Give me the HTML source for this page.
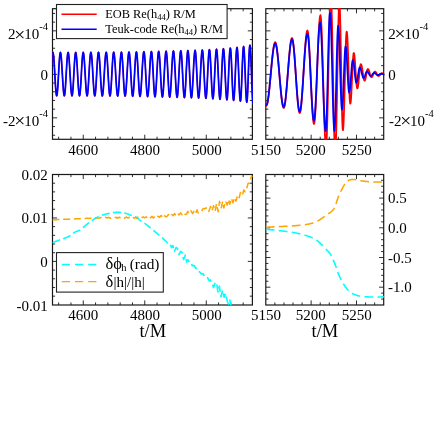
<!DOCTYPE html>
<html><head><meta charset="utf-8"><title>fig</title>
<style>
html,body{margin:0;padding:0;background:#fff}
#w{position:relative;width:436px;height:436px;overflow:hidden;background:#fff;font-family:"Liberation Serif",serif;color:#000}
text{white-space:pre}
</style></head><body><div id="w">
<svg width="436" height="436" viewBox="0 0 436 436" style="position:absolute;left:0;top:0;will-change:transform"><defs><clipPath id="c1"><rect x="52.3" y="8.1" width="200.70" height="131.8"/></clipPath><clipPath id="c2"><rect x="265.7" y="8.1" width="118.60" height="131.8"/></clipPath><clipPath id="c3"><rect x="52.3" y="173.9" width="200.70" height="131.7"/></clipPath><clipPath id="c4"><rect x="265.7" y="173.9" width="118.60" height="131.7"/></clipPath></defs><g fill="none" stroke="#181818" stroke-width="1.2"><rect x="52.5" y="8.7" width="199.9" height="130.6"/><rect x="265.8" y="8.7" width="117.9" height="130.6"/><rect x="52.5" y="174.5" width="199.9" height="130.5"/><rect x="265.8" y="174.5" width="117.9" height="130.5"/><path d="M58.65 139.3L58.65 136.7M58.65 8.7L58.65 11.3M70.95 139.3L70.95 136.7M70.95 8.7L70.95 11.3M83.25 139.3L83.25 134.7M83.25 8.7L83.25 13.3M95.56 139.3L95.56 136.7M95.56 8.7L95.56 11.3M107.86 139.3L107.86 136.7M107.86 8.7L107.86 11.3M120.16 139.3L120.16 136.7M120.16 8.7L120.16 11.3M132.46 139.3L132.46 136.7M132.46 8.7L132.46 11.3M144.76 139.3L144.76 134.7M144.76 8.7L144.76 13.3M157.06 139.3L157.06 136.7M157.06 8.7L157.06 11.3M169.36 139.3L169.36 136.7M169.36 8.7L169.36 11.3M181.67 139.3L181.67 136.7M181.67 8.7L181.67 11.3M193.97 139.3L193.97 136.7M193.97 8.7L193.97 11.3M206.27 139.3L206.27 134.7M206.27 8.7L206.27 13.3M218.57 139.3L218.57 136.7M218.57 8.7L218.57 11.3M230.87 139.3L230.87 136.7M230.87 8.7L230.87 11.3M243.17 139.3L243.17 136.7M243.17 8.7L243.17 11.3M274.87 139.3L274.87 136.7M274.87 8.7L274.87 11.3M283.94 139.3L283.94 136.7M283.94 8.7L283.94 11.3M293.01 139.3L293.01 136.7M293.01 8.7L293.01 11.3M302.08 139.3L302.08 136.7M302.08 8.7L302.08 11.3M311.15 139.3L311.15 134.7M311.15 8.7L311.15 13.3M320.22 139.3L320.22 136.7M320.22 8.7L320.22 11.3M329.28 139.3L329.28 136.7M329.28 8.7L329.28 11.3M338.35 139.3L338.35 136.7M338.35 8.7L338.35 11.3M347.42 139.3L347.42 136.7M347.42 8.7L347.42 11.3M356.49 139.3L356.49 134.7M356.49 8.7L356.49 13.3M365.56 139.3L365.56 136.7M365.56 8.7L365.56 11.3M374.63 139.3L374.63 136.7M374.63 8.7L374.63 11.3M58.65 305L58.65 302.4M58.65 174.5L58.65 177.1M70.95 305L70.95 302.4M70.95 174.5L70.95 177.1M83.25 305L83.25 300.4M83.25 174.5L83.25 179.1M95.56 305L95.56 302.4M95.56 174.5L95.56 177.1M107.86 305L107.86 302.4M107.86 174.5L107.86 177.1M120.16 305L120.16 302.4M120.16 174.5L120.16 177.1M132.46 305L132.46 302.4M132.46 174.5L132.46 177.1M144.76 305L144.76 300.4M144.76 174.5L144.76 179.1M157.06 305L157.06 302.4M157.06 174.5L157.06 177.1M169.36 305L169.36 302.4M169.36 174.5L169.36 177.1M181.67 305L181.67 302.4M181.67 174.5L181.67 177.1M193.97 305L193.97 302.4M193.97 174.5L193.97 177.1M206.27 305L206.27 300.4M206.27 174.5L206.27 179.1M218.57 305L218.57 302.4M218.57 174.5L218.57 177.1M230.87 305L230.87 302.4M230.87 174.5L230.87 177.1M243.17 305L243.17 302.4M243.17 174.5L243.17 177.1M274.87 305L274.87 302.4M274.87 174.5L274.87 177.1M283.94 305L283.94 302.4M283.94 174.5L283.94 177.1M293.01 305L293.01 302.4M293.01 174.5L293.01 177.1M302.08 305L302.08 302.4M302.08 174.5L302.08 177.1M311.15 305L311.15 300.4M311.15 174.5L311.15 179.1M320.22 305L320.22 302.4M320.22 174.5L320.22 177.1M329.28 305L329.28 302.4M329.28 174.5L329.28 177.1M338.35 305L338.35 302.4M338.35 174.5L338.35 177.1M347.42 305L347.42 302.4M347.42 174.5L347.42 177.1M356.49 305L356.49 300.4M356.49 174.5L356.49 179.1M365.56 305L365.56 302.4M365.56 174.5L365.56 177.1M374.63 305L374.63 302.4M374.63 174.5L374.63 177.1M52.5 135.25L55.1 135.25M252.4 135.25L249.8 135.25M265.8 135.25L268.4 135.25M383.7 135.25L381.1 135.25M52.5 126.55L55.1 126.55M252.4 126.55L249.8 126.55M265.8 126.55L268.4 126.55M383.7 126.55L381.1 126.55M52.5 117.85L57.1 117.85M252.4 117.85L247.8 117.85M265.8 117.85L270.4 117.85M383.7 117.85L379.1 117.85M52.5 109.15L55.1 109.15M252.4 109.15L249.8 109.15M265.8 109.15L268.4 109.15M383.7 109.15L381.1 109.15M52.5 100.45L55.1 100.45M252.4 100.45L249.8 100.45M265.8 100.45L268.4 100.45M383.7 100.45L381.1 100.45M52.5 91.75L55.1 91.75M252.4 91.75L249.8 91.75M265.8 91.75L268.4 91.75M383.7 91.75L381.1 91.75M52.5 83.05L55.1 83.05M252.4 83.05L249.8 83.05M265.8 83.05L268.4 83.05M383.7 83.05L381.1 83.05M52.5 74.35L57.1 74.35M252.4 74.35L247.8 74.35M265.8 74.35L270.4 74.35M383.7 74.35L379.1 74.35M52.5 65.65L55.1 65.65M252.4 65.65L249.8 65.65M265.8 65.65L268.4 65.65M383.7 65.65L381.1 65.65M52.5 56.95L55.1 56.95M252.4 56.95L249.8 56.95M265.8 56.95L268.4 56.95M383.7 56.95L381.1 56.95M52.5 48.25L55.1 48.25M252.4 48.25L249.8 48.25M265.8 48.25L268.4 48.25M383.7 48.25L381.1 48.25M52.5 39.55L55.1 39.55M252.4 39.55L249.8 39.55M265.8 39.55L268.4 39.55M383.7 39.55L381.1 39.55M52.5 30.85L57.1 30.85M252.4 30.85L247.8 30.85M265.8 30.85L270.4 30.85M383.7 30.85L379.1 30.85M52.5 22.15L55.1 22.15M252.4 22.15L249.8 22.15M265.8 22.15L268.4 22.15M383.7 22.15L381.1 22.15M52.5 13.45L55.1 13.45M252.4 13.45L249.8 13.45M265.8 13.45L268.4 13.45M383.7 13.45L381.1 13.45M52.5 296.16L55.1 296.16M252.4 296.16L249.8 296.16M52.5 287.47L55.1 287.47M252.4 287.47L249.8 287.47M52.5 278.78L55.1 278.78M252.4 278.78L249.8 278.78M52.5 270.09L55.1 270.09M252.4 270.09L249.8 270.09M52.5 261.4L57.1 261.4M252.4 261.4L247.8 261.4M52.5 252.71L55.1 252.71M252.4 252.71L249.8 252.71M52.5 244.02L55.1 244.02M252.4 244.02L249.8 244.02M52.5 235.33L55.1 235.33M252.4 235.33L249.8 235.33M52.5 226.64L55.1 226.64M252.4 226.64L249.8 226.64M52.5 217.95L57.1 217.95M252.4 217.95L247.8 217.95M52.5 209.26L55.1 209.26M252.4 209.26L249.8 209.26M52.5 200.57L55.1 200.57M252.4 200.57L249.8 200.57M52.5 191.88L55.1 191.88M252.4 191.88L249.8 191.88M52.5 183.19L55.1 183.19M252.4 183.19L249.8 183.19M265.8 299.08L268.4 299.08M383.7 299.08L381.1 299.08M265.8 293.14L268.4 293.14M383.7 293.14L381.1 293.14M265.8 287.2L270.4 287.2M383.7 287.2L379.1 287.2M265.8 281.26L268.4 281.26M383.7 281.26L381.1 281.26M265.8 275.32L268.4 275.32M383.7 275.32L381.1 275.32M265.8 269.38L268.4 269.38M383.7 269.38L381.1 269.38M265.8 263.44L268.4 263.44M383.7 263.44L381.1 263.44M265.8 257.5L270.4 257.5M383.7 257.5L379.1 257.5M265.8 251.56L268.4 251.56M383.7 251.56L381.1 251.56M265.8 245.62L268.4 245.62M383.7 245.62L381.1 245.62M265.8 239.68L268.4 239.68M383.7 239.68L381.1 239.68M265.8 233.74L268.4 233.74M383.7 233.74L381.1 233.74M265.8 227.8L270.4 227.8M383.7 227.8L379.1 227.8M265.8 221.86L268.4 221.86M383.7 221.86L381.1 221.86M265.8 215.92L268.4 215.92M383.7 215.92L381.1 215.92M265.8 209.98L268.4 209.98M383.7 209.98L381.1 209.98M265.8 204.04L268.4 204.04M383.7 204.04L381.1 204.04M265.8 198.1L270.4 198.1M383.7 198.1L379.1 198.1M265.8 192.16L268.4 192.16M383.7 192.16L381.1 192.16M265.8 186.22L268.4 186.22M383.7 186.22L381.1 186.22M265.8 180.28L268.4 180.28M383.7 180.28L381.1 180.28" stroke-width="0.9"/></g><g fill="none" stroke-linejoin="round"><path clip-path="url(#c1)" d="M49.1 96.1 L49.37 95.55 L49.64 93.92 L49.91 91.3 L50.19 87.82 L50.46 83.65 L50.73 79 L51 74.1 L51.27 69.2 L51.54 64.55 L51.81 60.38 L52.09 56.9 L52.36 54.28 L52.63 52.65 L52.9 52.1 L53.17 52.65 L53.44 54.28 L53.71 56.9 L53.99 60.38 L54.26 64.56 L54.53 69.21 L54.8 74.1 L55.07 79 L55.34 83.65 L55.61 87.82 L55.89 91.3 L56.16 93.92 L56.43 95.55 L56.7 96.1 L56.96 95.55 L57.23 93.92 L57.49 91.3 L57.76 87.82 L58.02 83.65 L58.29 78.99 L58.55 74.1 L58.81 69.2 L59.08 64.55 L59.34 60.38 L59.61 56.89 L59.87 54.27 L60.14 52.64 L60.4 52.09 L60.68 52.64 L60.96 54.27 L61.24 56.9 L61.51 60.38 L61.79 64.55 L62.07 69.21 L62.35 74.1 L62.63 79 L62.91 83.65 L63.19 87.83 L63.46 91.31 L63.74 93.93 L64.02 95.56 L64.3 96.11 L64.57 95.56 L64.84 93.93 L65.11 91.31 L65.39 87.82 L65.66 83.65 L65.93 79 L66.2 74.1 L66.47 69.2 L66.74 64.54 L67.01 60.37 L67.29 56.88 L67.56 54.26 L67.83 52.63 L68.1 52.08 L68.38 52.63 L68.66 54.26 L68.94 56.88 L69.21 60.37 L69.49 64.55 L69.77 69.2 L70.05 74.11 L70.33 79.01 L70.61 83.66 L70.89 87.84 L71.16 91.33 L71.44 93.95 L71.72 95.58 L72 96.14 L72.26 95.58 L72.53 93.95 L72.79 91.33 L73.06 87.84 L73.32 83.66 L73.59 79 L73.85 74.09 L74.11 69.19 L74.38 64.53 L74.64 60.35 L74.91 56.86 L75.17 54.24 L75.44 52.61 L75.7 52.05 L75.97 52.61 L76.24 54.24 L76.51 56.86 L76.79 60.36 L77.06 64.54 L77.33 69.2 L77.6 74.11 L77.87 79.01 L78.14 83.68 L78.41 87.86 L78.69 91.35 L78.96 93.98 L79.23 95.61 L79.5 96.16 L79.76 95.61 L80.03 93.98 L80.29 91.35 L80.56 87.85 L80.82 83.67 L81.09 79 L81.35 74.09 L81.61 69.18 L81.88 64.52 L82.14 60.33 L82.41 56.84 L82.67 54.21 L82.94 52.58 L83.2 52.03 L83.48 52.58 L83.76 54.21 L84.04 56.84 L84.31 60.34 L84.59 64.53 L84.87 69.19 L85.15 74.11 L85.43 79.02 L85.71 83.69 L85.99 87.88 L86.26 91.37 L86.54 94 L86.82 95.64 L87.1 96.19 L87.37 95.63 L87.64 94 L87.91 91.37 L88.19 87.87 L88.46 83.68 L88.73 79.01 L89 74.09 L89.27 69.18 L89.54 64.51 L89.81 60.32 L90.09 56.82 L90.36 54.18 L90.63 52.55 L90.9 52 L91.18 52.55 L91.46 54.19 L91.74 56.82 L92.01 60.32 L92.29 64.51 L92.57 69.19 L92.85 74.11 L93.13 79.03 L93.41 83.7 L93.69 87.89 L93.96 91.4 L94.24 94.03 L94.52 95.67 L94.8 96.22 L95.06 95.66 L95.33 94.03 L95.59 91.39 L95.86 87.89 L96.12 83.69 L96.39 79.02 L96.65 74.09 L96.91 69.17 L97.18 64.49 L97.44 60.29 L97.71 56.79 L97.97 54.15 L98.24 52.52 L98.5 51.96 L98.77 52.52 L99.04 54.16 L99.31 56.79 L99.59 60.3 L99.86 64.5 L100.13 69.18 L100.4 74.11 L100.67 79.04 L100.94 83.72 L101.21 87.92 L101.49 91.43 L101.76 94.06 L102.03 95.7 L102.3 96.26 L102.58 95.7 L102.86 94.06 L103.14 91.42 L103.41 87.91 L103.69 83.71 L103.97 79.02 L104.25 74.09 L104.53 69.16 L104.81 64.47 L105.09 60.27 L105.36 56.76 L105.64 54.11 L105.92 52.47 L106.2 51.92 L106.47 52.48 L106.74 54.12 L107.01 56.76 L107.29 60.28 L107.56 64.48 L107.83 69.17 L108.1 74.11 L108.37 79.05 L108.64 83.74 L108.91 87.95 L109.19 91.47 L109.46 94.11 L109.73 95.75 L110 96.31 L110.26 95.75 L110.53 94.11 L110.79 91.46 L111.06 87.94 L111.32 83.73 L111.59 79.03 L111.85 74.09 L112.11 69.14 L112.38 64.44 L112.64 60.23 L112.91 56.71 L113.17 54.07 L113.44 52.42 L113.7 51.86 L113.99 52.42 L114.27 54.07 L114.56 56.72 L114.84 60.24 L115.13 64.46 L115.41 69.17 L115.7 74.12 L115.99 79.07 L116.27 83.77 L116.56 87.99 L116.84 91.51 L117.13 94.17 L117.41 95.81 L117.7 96.37 L117.96 95.81 L118.23 94.16 L118.49 91.51 L118.76 87.98 L119.02 83.75 L119.29 79.04 L119.55 74.08 L119.81 69.12 L120.08 64.41 L120.34 60.19 L120.61 56.66 L120.87 54 L121.14 52.35 L121.4 51.8 L121.66 52.36 L121.93 54.01 L122.19 56.67 L122.46 60.2 L122.72 64.44 L122.99 69.15 L123.25 74.12 L123.51 79.09 L123.78 83.81 L124.04 88.04 L124.31 91.58 L124.57 94.24 L124.84 95.89 L125.1 96.45 L125.38 95.89 L125.66 94.23 L125.94 91.57 L126.21 88.02 L126.49 83.78 L126.77 79.05 L127.05 74.07 L127.33 69.09 L127.61 64.36 L127.89 60.11 L128.16 56.57 L128.44 53.9 L128.72 52.25 L129 51.69 L129.26 52.25 L129.53 53.91 L129.79 56.59 L130.06 60.14 L130.32 64.4 L130.59 69.14 L130.85 74.13 L131.11 79.13 L131.38 83.87 L131.64 88.13 L131.91 91.68 L132.17 94.36 L132.44 96.02 L132.7 96.58 L132.96 96.02 L133.23 94.35 L133.49 91.67 L133.76 88.1 L134.02 83.83 L134.29 79.07 L134.55 74.06 L134.81 69.05 L135.08 64.29 L135.34 60.02 L135.61 56.45 L135.87 53.77 L136.14 52.1 L136.4 51.54 L136.66 52.11 L136.91 53.78 L137.17 56.47 L137.43 60.05 L137.69 64.33 L137.94 69.11 L138.2 74.14 L138.46 79.17 L138.71 83.95 L138.97 88.23 L139.23 91.81 L139.49 94.5 L139.74 96.17 L140 96.74 L140.28 96.17 L140.56 94.49 L140.84 91.79 L141.11 88.2 L141.39 83.9 L141.67 79.1 L141.95 74.05 L142.23 69.01 L142.51 64.21 L142.79 59.91 L143.06 56.32 L143.34 53.61 L143.62 51.94 L143.9 51.37 L144.16 51.94 L144.43 53.62 L144.69 56.34 L144.96 59.94 L145.22 64.26 L145.49 69.08 L145.75 74.14 L146.01 79.21 L146.28 84.03 L146.54 88.35 L146.81 91.95 L147.07 94.67 L147.34 96.35 L147.6 96.92 L147.87 96.35 L148.14 94.66 L148.41 91.93 L148.69 88.31 L148.96 83.98 L149.23 79.14 L149.5 74.06 L149.77 68.97 L150.04 64.14 L150.31 59.8 L150.59 56.18 L150.86 53.46 L151.13 51.76 L151.4 51.19 L151.66 51.77 L151.91 53.46 L152.17 56.2 L152.43 59.83 L152.69 64.18 L152.94 69.04 L153.2 74.14 L153.46 79.25 L153.71 84.1 L153.97 88.45 L154.23 92.09 L154.49 94.82 L154.74 96.52 L155 97.09 L155.26 96.52 L155.53 94.81 L155.79 92.07 L156.06 88.42 L156.32 84.05 L156.59 79.18 L156.85 74.05 L157.11 68.93 L157.38 64.06 L157.64 59.69 L157.91 56.04 L158.17 53.3 L158.44 51.59 L158.7 51.01 L158.96 51.59 L159.23 53.31 L159.49 56.06 L159.76 59.72 L160.02 64.11 L160.29 69 L160.55 74.15 L160.81 79.3 L161.08 84.18 L161.34 88.57 L161.61 92.23 L161.87 94.99 L162.14 96.7 L162.4 97.28 L162.66 96.7 L162.93 94.98 L163.19 92.21 L163.46 88.53 L163.72 84.13 L163.99 79.22 L164.25 74.05 L164.51 68.88 L164.78 63.97 L165.04 59.57 L165.31 55.89 L165.57 53.12 L165.84 51.4 L166.1 50.82 L166.36 51.41 L166.61 53.13 L166.87 55.91 L167.13 59.6 L167.39 64.03 L167.64 68.96 L167.9 74.15 L168.16 79.34 L168.41 84.27 L168.67 88.69 L168.93 92.39 L169.19 95.17 L169.44 96.89 L169.7 97.48 L169.96 96.89 L170.23 95.16 L170.49 92.37 L170.76 88.66 L171.02 84.21 L171.29 79.26 L171.55 74.05 L171.81 68.83 L172.08 63.88 L172.34 59.44 L172.61 55.73 L172.87 52.94 L173.14 51.21 L173.4 50.62 L173.66 51.21 L173.93 52.95 L174.19 55.75 L174.46 59.48 L174.72 63.94 L174.99 68.92 L175.25 74.15 L175.51 79.39 L175.78 84.36 L176.04 88.83 L176.31 92.55 L176.57 95.36 L176.84 97.1 L177.1 97.69 L177.36 97.09 L177.63 95.35 L177.89 92.53 L178.16 88.79 L178.42 84.3 L178.69 79.31 L178.95 74.05 L179.21 68.79 L179.48 63.79 L179.74 59.31 L180.01 55.56 L180.27 52.75 L180.54 51 L180.8 50.41 L181.06 51 L181.31 52.76 L181.57 55.59 L181.83 59.35 L182.09 63.85 L182.34 68.87 L182.6 74.15 L182.86 79.44 L183.11 84.45 L183.37 88.96 L183.63 92.72 L183.89 95.55 L184.14 97.3 L184.4 97.9 L184.65 97.3 L184.9 95.54 L185.15 92.69 L185.4 88.92 L185.65 84.4 L185.9 79.36 L186.15 74.05 L186.4 68.74 L186.65 63.7 L186.9 59.18 L187.15 55.41 L187.4 52.57 L187.65 50.8 L187.9 50.2 L188.15 50.8 L188.4 52.58 L188.65 55.43 L188.9 59.22 L189.15 63.76 L189.4 68.82 L189.65 74.15 L189.9 79.48 L190.15 84.54 L190.4 89.08 L190.65 92.87 L190.9 95.73 L191.15 97.5 L191.4 98.1 L191.66 97.5 L191.93 95.72 L192.19 92.85 L192.46 89.04 L192.72 84.48 L192.99 79.39 L193.25 74.04 L193.51 68.69 L193.78 63.6 L194.04 59.04 L194.31 55.23 L194.57 52.36 L194.84 50.59 L195.1 49.98 L195.35 50.59 L195.6 52.38 L195.85 55.26 L196.1 59.09 L196.35 63.67 L196.6 68.78 L196.85 74.16 L197.1 79.54 L197.35 84.66 L197.6 89.24 L197.85 93.07 L198.1 95.95 L198.35 97.74 L198.6 98.34 L198.86 97.73 L199.13 95.94 L199.39 93.04 L199.66 89.19 L199.92 84.58 L200.19 79.43 L200.45 74.02 L200.71 68.61 L200.98 63.47 L201.24 58.86 L201.51 55.01 L201.77 52.11 L202.04 50.31 L202.3 49.7 L202.56 50.31 L202.81 52.12 L203.07 55.04 L203.33 58.92 L203.59 63.56 L203.84 68.74 L204.1 74.19 L204.36 79.64 L204.61 84.82 L204.87 89.46 L205.13 93.34 L205.39 96.26 L205.64 98.07 L205.9 98.68 L206.15 98.06 L206.4 96.24 L206.65 93.3 L206.9 89.39 L207.15 84.71 L207.4 79.49 L207.65 74 L207.9 68.51 L208.15 63.29 L208.4 58.61 L208.65 54.7 L208.9 51.76 L209.15 49.94 L209.4 49.32 L209.65 49.94 L209.9 51.78 L210.15 54.75 L210.4 58.69 L210.65 63.41 L210.9 68.67 L211.15 74.21 L211.4 79.75 L211.65 85.01 L211.9 89.73 L212.15 93.67 L212.4 96.63 L212.65 98.47 L212.9 99.1 L213.16 98.47 L213.41 96.61 L213.67 93.62 L213.93 89.64 L214.19 84.88 L214.44 79.57 L214.7 73.98 L214.96 68.39 L215.21 63.09 L215.47 58.32 L215.73 54.35 L215.99 51.35 L216.24 49.5 L216.5 48.87 L216.75 49.5 L217 51.38 L217.25 54.4 L217.5 58.41 L217.75 63.22 L218 68.58 L218.25 74.22 L218.5 79.86 L218.75 85.22 L219 90.03 L219.25 94.05 L219.5 97.07 L219.75 98.94 L220 99.58 L220.24 98.93 L220.49 97.04 L220.73 93.99 L220.97 89.94 L221.21 85.08 L221.46 79.67 L221.7 73.97 L221.94 68.27 L222.19 62.86 L222.43 58.01 L222.67 53.95 L222.91 50.9 L223.16 49.01 L223.4 48.37 L223.65 49.01 L223.9 50.93 L224.15 54.01 L224.4 58.11 L224.65 63.02 L224.9 68.49 L225.15 74.24 L225.4 80 L225.65 85.47 L225.9 90.38 L226.15 94.48 L226.4 97.56 L226.65 99.47 L226.9 100.12 L227.14 99.47 L227.39 97.53 L227.63 94.41 L227.87 90.27 L228.11 85.3 L228.36 79.77 L228.6 73.95 L228.84 68.12 L229.09 62.59 L229.33 57.63 L229.57 53.48 L229.81 50.36 L230.06 48.43 L230.3 47.77 L230.54 48.44 L230.77 50.4 L231.01 53.55 L231.24 57.75 L231.48 62.77 L231.71 68.37 L231.95 74.26 L232.19 80.16 L232.42 85.76 L232.66 90.78 L232.89 94.97 L233.13 98.13 L233.36 100.09 L233.6 100.75 L233.84 100.08 L234.09 98.09 L234.33 94.9 L234.57 90.65 L234.81 85.56 L235.06 79.88 L235.3 73.91 L235.54 67.94 L235.79 62.27 L236.03 57.18 L236.27 52.93 L236.51 49.73 L236.76 47.74 L237 47.07 L237.24 47.75 L237.49 49.77 L237.73 53.01 L237.97 57.33 L238.21 62.49 L238.46 68.25 L238.7 74.31 L238.94 80.37 L239.19 86.13 L239.43 91.3 L239.67 95.61 L239.91 98.86 L240.16 100.87 L240.4 101.55 L240.63 100.86 L240.86 98.81 L241.09 95.51 L241.31 91.13 L241.54 85.88 L241.77 80.03 L242 73.87 L242.23 67.71 L242.46 61.86 L242.69 56.61 L242.91 52.23 L243.14 48.93 L243.37 46.88 L243.6 46.19 L243.83 46.9 L244.06 48.98 L244.29 52.34 L244.51 56.8 L244.74 62.15 L244.97 68.1 L245.2 74.38 L245.43 80.65 L245.66 86.61 L245.89 91.95 L246.11 96.41 L246.34 99.77 L246.57 101.85 L246.8 102.56 L247.02 101.84 L247.24 99.71 L247.46 96.27 L247.69 91.71 L247.91 86.24 L248.13 80.15 L248.35 73.74 L248.57 67.32 L248.79 61.23 L249.01 55.76 L249.24 51.2 L249.46 47.77 L249.68 45.63 L249.9 44.91 L250.14 45.65 L250.37 47.84 L250.61 51.37 L250.84 56.06 L251.08 61.68 L251.31 67.94 L251.55 74.53 L251.79 81.12 L252.02 87.38 L252.26 93 L252.49 97.69 L252.73 101.21 L252.96 103.41 L253.2 104.15" stroke="#f00" stroke-width="1.2"/><path clip-path="url(#c1)" d="M49.1 95.6 L49.37 95.06 L49.64 93.47 L49.91 90.91 L50.19 87.51 L50.46 83.43 L50.73 78.88 L51 74.1 L51.27 69.32 L51.54 64.77 L51.81 60.69 L52.09 57.29 L52.36 54.73 L52.63 53.14 L52.9 52.6 L53.17 53.14 L53.44 54.73 L53.71 57.29 L53.99 60.7 L54.26 64.77 L54.53 69.32 L54.8 74.1 L55.07 78.89 L55.34 83.43 L55.61 87.51 L55.89 90.91 L56.16 93.47 L56.43 95.06 L56.7 95.6 L56.96 95.06 L57.23 93.47 L57.49 90.91 L57.76 87.51 L58.02 83.43 L58.29 78.88 L58.55 74.1 L58.81 69.31 L59.08 64.77 L59.34 60.69 L59.61 57.28 L59.87 54.72 L60.14 53.13 L60.4 52.59 L60.68 53.13 L60.96 54.72 L61.24 57.29 L61.51 60.69 L61.79 64.77 L62.07 69.32 L62.35 74.1 L62.63 78.89 L62.91 83.44 L63.19 87.52 L63.46 90.92 L63.74 93.48 L64.02 95.08 L64.3 95.61 L64.57 95.07 L64.84 93.48 L65.11 90.92 L65.39 87.51 L65.66 83.43 L65.93 78.88 L66.2 74.1 L66.47 69.31 L66.74 64.76 L67.01 60.68 L67.29 57.27 L67.56 54.71 L67.83 53.12 L68.1 52.58 L68.38 53.12 L68.66 54.71 L68.94 57.27 L69.21 60.68 L69.49 64.76 L69.77 69.31 L70.05 74.11 L70.33 78.9 L70.61 83.45 L70.89 87.53 L71.16 90.94 L71.44 93.5 L71.72 95.1 L72 95.64 L72.26 95.09 L72.53 93.5 L72.79 90.94 L73.06 87.52 L73.32 83.44 L73.59 78.89 L73.85 74.09 L74.11 69.3 L74.38 64.75 L74.64 60.66 L74.91 57.25 L75.17 54.69 L75.44 53.09 L75.7 52.55 L75.97 53.09 L76.24 54.69 L76.51 57.26 L76.79 60.67 L77.06 64.75 L77.33 69.31 L77.6 74.11 L77.87 78.9 L78.14 83.46 L78.41 87.55 L78.69 90.96 L78.96 93.53 L79.23 95.12 L79.5 95.66 L79.76 95.12 L80.03 93.52 L80.29 90.96 L80.56 87.54 L80.82 83.45 L81.09 78.89 L81.35 74.09 L81.61 69.29 L81.88 64.74 L82.14 60.65 L82.41 57.23 L82.67 54.66 L82.94 53.07 L83.2 52.53 L83.48 53.07 L83.76 54.66 L84.04 57.23 L84.31 60.65 L84.59 64.74 L84.87 69.31 L85.15 74.11 L85.43 78.91 L85.71 83.47 L85.99 87.56 L86.26 90.98 L86.54 93.55 L86.82 95.15 L87.1 95.69 L87.37 95.15 L87.64 93.55 L87.91 90.98 L88.19 87.56 L88.46 83.46 L88.73 78.9 L89 74.09 L89.27 69.29 L89.54 64.72 L89.81 60.63 L90.09 57.21 L90.36 54.64 L90.63 53.04 L90.9 52.5 L91.18 53.04 L91.46 54.64 L91.74 57.21 L92.01 60.63 L92.29 64.73 L92.57 69.3 L92.85 74.11 L93.13 78.92 L93.41 83.49 L93.69 87.58 L93.96 91 L94.24 93.58 L94.52 95.18 L94.8 95.72 L95.06 95.18 L95.33 93.58 L95.59 91 L95.86 87.58 L96.12 83.48 L96.39 78.9 L96.65 74.09 L96.91 69.28 L97.18 64.71 L97.44 60.61 L97.71 57.18 L97.97 54.6 L98.24 53 L98.5 52.46 L98.77 53.01 L99.04 54.61 L99.31 57.19 L99.59 60.61 L99.86 64.72 L100.13 69.29 L100.4 74.11 L100.67 78.93 L100.94 83.5 L101.21 87.61 L101.49 91.03 L101.76 93.61 L102.03 95.21 L102.3 95.76 L102.58 95.21 L102.86 93.61 L103.14 91.03 L103.41 87.6 L103.69 83.49 L103.97 78.91 L104.25 74.09 L104.53 69.27 L104.81 64.69 L105.09 60.58 L105.36 57.15 L105.64 54.56 L105.92 52.96 L106.2 52.42 L106.47 52.96 L106.74 54.57 L107.01 57.15 L107.29 60.59 L107.56 64.7 L107.83 69.29 L108.1 74.11 L108.37 78.94 L108.64 83.53 L108.91 87.64 L109.19 91.07 L109.46 93.66 L109.73 95.26 L110 95.81 L110.26 95.26 L110.53 93.66 L110.79 91.07 L111.06 87.63 L111.32 83.51 L111.59 78.92 L111.85 74.09 L112.11 69.25 L112.38 64.66 L112.64 60.54 L112.91 57.1 L113.17 54.52 L113.44 52.91 L113.7 52.36 L113.99 52.91 L114.27 54.52 L114.56 57.11 L114.84 60.55 L115.13 64.68 L115.41 69.28 L115.7 74.12 L115.99 78.96 L116.27 83.55 L116.56 87.68 L116.84 91.12 L117.13 93.71 L117.41 95.32 L117.7 95.87 L117.96 95.32 L118.23 93.71 L118.49 91.12 L118.76 87.67 L119.02 83.54 L119.29 78.93 L119.55 74.08 L119.81 69.23 L120.08 64.63 L120.34 60.5 L120.61 57.05 L120.87 54.45 L121.14 52.84 L121.4 52.3 L121.66 52.84 L121.93 54.46 L122.19 57.06 L122.46 60.51 L122.72 64.65 L122.99 69.27 L123.25 74.12 L123.51 78.98 L123.78 83.59 L124.04 87.73 L124.31 91.19 L124.57 93.79 L124.84 95.4 L125.1 95.95 L125.38 95.4 L125.66 93.78 L125.94 91.18 L126.21 87.71 L126.49 83.56 L126.77 78.94 L127.05 74.07 L127.33 69.2 L127.61 64.58 L127.89 60.43 L128.16 56.96 L128.44 54.36 L128.72 52.74 L129 52.19 L129.26 52.74 L129.53 54.36 L129.79 56.98 L130.06 60.45 L130.32 64.61 L130.59 69.25 L130.85 74.13 L131.11 79.02 L131.38 83.66 L131.64 87.82 L131.91 91.29 L132.17 93.91 L132.44 95.53 L132.7 96.08 L132.96 95.53 L133.23 93.9 L133.49 91.28 L133.76 87.79 L134.02 83.62 L134.29 78.96 L134.55 74.06 L134.81 69.16 L135.08 64.51 L135.34 60.33 L135.61 56.84 L135.87 54.22 L136.14 52.59 L136.4 52.04 L136.66 52.59 L136.91 54.23 L137.17 56.86 L137.43 60.36 L137.69 64.55 L137.94 69.22 L138.2 74.14 L138.46 79.06 L138.71 83.73 L138.97 87.92 L139.23 91.42 L139.49 94.05 L139.74 95.69 L140 96.24 L140.28 95.69 L140.56 94.04 L140.84 91.4 L141.11 87.89 L141.39 83.68 L141.67 78.99 L141.95 74.05 L142.23 69.12 L142.51 64.43 L142.79 60.22 L143.06 56.71 L143.34 54.06 L143.62 52.42 L143.9 51.87 L144.16 52.43 L144.43 54.07 L144.69 56.73 L144.96 60.25 L145.22 64.48 L145.49 69.19 L145.75 74.14 L146.01 79.1 L146.28 83.81 L146.54 88.03 L146.81 91.56 L147.07 94.21 L147.34 95.86 L147.6 96.42 L147.87 95.86 L148.14 94.21 L148.41 91.54 L148.69 88 L148.96 83.76 L149.23 79.03 L149.5 74.06 L149.77 69.08 L150.04 64.35 L150.31 60.11 L150.59 56.57 L150.86 53.91 L151.13 52.25 L151.4 51.69 L151.66 52.25 L151.91 53.91 L152.17 56.59 L152.43 60.14 L152.69 64.4 L152.94 69.15 L153.2 74.14 L153.46 79.14 L153.71 83.88 L153.97 88.14 L154.23 91.7 L154.49 94.37 L154.74 96.03 L155 96.59 L155.26 96.03 L155.53 94.36 L155.79 91.68 L156.06 88.11 L156.32 83.83 L156.59 79.07 L156.85 74.05 L157.11 69.04 L157.38 64.27 L157.64 60 L157.91 56.43 L158.17 53.75 L158.44 52.08 L158.7 51.51 L158.96 52.08 L159.23 53.76 L159.49 56.45 L159.76 60.04 L160.02 64.33 L160.29 69.11 L160.55 74.15 L160.81 79.18 L161.08 83.97 L161.34 88.26 L161.61 91.84 L161.87 94.54 L162.14 96.21 L162.4 96.78 L162.66 96.21 L162.93 94.53 L163.19 91.82 L163.46 88.22 L163.72 83.91 L163.99 79.11 L164.25 74.05 L164.51 68.99 L164.78 64.19 L165.04 59.88 L165.31 56.28 L165.57 53.57 L165.84 51.89 L166.1 51.32 L166.36 51.89 L166.61 53.58 L166.87 56.3 L167.13 59.92 L167.39 64.24 L167.64 69.07 L167.9 74.15 L168.16 79.23 L168.41 84.05 L168.67 88.38 L168.93 92 L169.19 94.72 L169.44 96.41 L169.7 96.98 L169.96 96.4 L170.23 94.71 L170.49 91.98 L170.76 88.34 L171.02 84 L171.29 79.15 L171.55 74.05 L171.81 68.95 L172.08 64.1 L172.34 59.75 L172.61 56.12 L172.87 53.39 L173.14 51.69 L173.4 51.12 L173.66 51.7 L173.93 53.4 L174.19 56.14 L174.46 59.79 L174.72 64.16 L174.99 69.03 L175.25 74.15 L175.51 79.28 L175.78 84.15 L176.04 88.51 L176.31 92.16 L176.57 94.91 L176.84 96.61 L177.1 97.19 L177.36 96.61 L177.63 94.9 L177.89 92.14 L178.16 88.47 L178.42 84.09 L178.69 79.2 L178.95 74.05 L179.21 68.9 L179.48 64.01 L179.74 59.62 L180.01 55.95 L180.27 53.2 L180.54 51.49 L180.8 50.91 L181.06 51.49 L181.31 53.21 L181.57 55.98 L181.83 59.66 L182.09 64.07 L182.34 68.98 L182.6 74.15 L182.86 79.32 L183.11 84.24 L183.37 88.64 L183.63 92.33 L183.89 95.1 L184.14 96.81 L184.4 97.4 L184.65 96.81 L184.9 95.09 L185.15 92.3 L185.4 88.61 L185.65 84.18 L185.9 79.25 L186.15 74.05 L186.4 68.86 L186.65 63.92 L186.9 59.49 L187.15 55.8 L187.4 53.02 L187.65 51.29 L187.9 50.7 L188.15 51.29 L188.4 53.03 L188.65 55.82 L188.9 59.53 L189.15 63.98 L189.4 68.93 L189.65 74.15 L189.9 79.37 L190.15 84.33 L190.4 88.77 L190.65 92.48 L190.9 95.28 L191.15 97.01 L191.4 97.6 L191.66 97.01 L191.93 95.27 L192.19 92.46 L192.46 88.73 L192.72 84.26 L192.99 79.28 L193.25 74.04 L193.51 68.8 L193.78 63.82 L194.04 59.35 L194.31 55.62 L194.57 52.81 L194.84 51.07 L195.1 50.48 L195.35 51.08 L195.6 52.83 L195.85 55.65 L196.1 59.4 L196.35 63.89 L196.6 68.89 L196.85 74.16 L197.1 79.43 L197.35 84.44 L197.6 88.93 L197.85 92.68 L198.1 95.5 L198.35 97.25 L198.6 97.84 L198.86 97.25 L199.13 95.49 L199.39 92.65 L199.66 88.88 L199.92 84.36 L200.19 79.32 L200.45 74.02 L200.71 68.72 L200.98 63.69 L201.24 59.17 L201.51 55.4 L201.77 52.56 L202.04 50.8 L202.3 50.2 L202.56 50.8 L202.81 52.58 L203.07 55.43 L203.33 59.23 L203.59 63.78 L203.84 68.85 L204.1 74.19 L204.36 79.53 L204.61 84.6 L204.87 89.15 L205.13 92.95 L205.39 95.81 L205.64 97.58 L205.9 98.18 L206.15 97.58 L206.4 95.79 L206.65 92.91 L206.9 89.08 L207.15 84.49 L207.4 79.38 L207.65 74 L207.9 68.62 L208.15 63.51 L208.4 58.92 L208.65 55.09 L208.9 52.21 L209.15 50.42 L209.4 49.82 L209.65 50.43 L209.9 52.23 L210.15 55.14 L210.4 59 L210.65 63.63 L210.9 68.78 L211.15 74.21 L211.4 79.64 L211.65 84.79 L211.9 89.42 L212.15 93.28 L212.4 96.18 L212.65 97.99 L212.9 98.6 L213.16 97.98 L213.41 96.16 L213.67 93.23 L213.93 89.33 L214.19 84.66 L214.44 79.46 L214.7 73.98 L214.96 68.51 L215.21 63.3 L215.47 58.64 L215.73 54.74 L215.99 51.8 L216.24 49.98 L216.5 49.37 L216.75 49.99 L217 51.83 L217.25 54.79 L217.5 58.73 L217.75 63.44 L218 68.69 L218.25 74.22 L218.5 79.75 L218.75 85.01 L219 89.72 L219.25 93.65 L219.5 96.62 L219.75 98.45 L220 99.08 L220.24 98.45 L220.49 96.59 L220.73 93.6 L220.97 89.62 L221.21 84.86 L221.46 79.56 L221.7 73.97 L221.94 68.38 L222.19 63.08 L222.43 58.32 L222.67 54.34 L222.91 51.35 L223.16 49.49 L223.4 48.87 L223.65 49.5 L223.9 51.38 L224.15 54.4 L224.4 58.42 L224.65 63.23 L224.9 68.6 L225.15 74.24 L225.4 79.89 L225.65 85.26 L225.9 90.07 L226.15 94.09 L226.4 97.11 L226.65 98.99 L226.9 99.62 L227.14 98.98 L227.39 97.08 L227.63 94.02 L227.87 89.96 L228.11 85.09 L228.36 79.66 L228.6 73.95 L228.84 68.23 L229.09 62.81 L229.33 57.94 L229.57 53.87 L229.81 50.81 L230.06 48.92 L230.3 48.27 L230.54 48.92 L230.77 50.85 L231.01 53.94 L231.24 58.06 L231.48 62.99 L231.71 68.48 L231.95 74.26 L232.19 80.05 L232.42 85.54 L232.66 90.47 L232.89 94.58 L233.13 97.68 L233.36 99.6 L233.6 100.25 L233.84 99.59 L234.09 97.64 L234.33 94.51 L234.57 90.34 L234.81 85.34 L235.06 79.77 L235.3 73.91 L235.54 68.05 L235.79 62.48 L236.03 57.49 L236.27 53.32 L236.51 50.18 L236.76 48.23 L237 47.57 L237.24 48.24 L237.49 50.22 L237.73 53.41 L237.97 57.64 L238.21 62.71 L238.46 68.36 L238.7 74.31 L238.94 80.26 L239.19 85.91 L239.43 90.98 L239.67 95.22 L239.91 98.4 L240.16 100.38 L240.4 101.05 L240.63 100.37 L240.86 98.36 L241.09 95.12 L241.31 90.82 L241.54 85.66 L241.77 79.92 L242 73.87 L242.23 67.82 L242.46 62.08 L242.69 56.92 L242.91 52.62 L243.14 49.38 L243.37 47.37 L243.6 46.69 L243.83 47.38 L244.06 49.43 L244.29 52.73 L244.51 57.11 L244.74 62.36 L244.97 68.22 L245.2 74.38 L245.43 80.54 L245.66 86.39 L245.89 91.64 L246.11 96.02 L246.34 99.32 L246.57 101.37 L246.8 102.06 L247.02 101.35 L247.24 99.26 L247.46 95.88 L247.69 91.4 L247.91 86.03 L248.13 80.04 L248.35 73.74 L248.57 67.43 L248.79 61.45 L249.01 56.08 L249.24 51.59 L249.46 48.22 L249.68 46.12 L249.9 45.41 L250.14 46.14 L250.37 48.29 L250.61 51.76 L250.84 56.37 L251.08 61.9 L251.31 68.05 L251.55 74.53 L251.79 81.01 L252.02 87.16 L252.26 92.68 L252.49 97.3 L252.73 100.76 L252.96 102.92 L253.2 103.65" stroke="#00f" stroke-width="1.75"/><path clip-path="url(#c2)" d="M257.5 106.3 L258.05 106.3 L258.6 106.28 L259.15 106.26 L259.7 106.23 L260.25 106.19 L260.8 106.15 L261.35 106.1 L261.9 106.05 L262.45 106 L263 105.95 L263.55 105.91 L264.1 105.87 L264.65 105.84 L265.2 105.82 L265.75 105.8 L266.3 105.8 L266.86 105.19 L267.41 103.38 L267.97 100.44 L268.52 96.49 L269.08 91.67 L269.64 86.17 L270.19 80.2 L270.75 74 L271.31 67.8 L271.86 61.83 L272.42 56.33 L272.98 51.51 L273.53 47.56 L274.09 44.62 L274.64 42.81 L275.2 42.2 L275.73 42.83 L276.26 44.7 L276.79 47.74 L277.32 51.84 L277.86 56.82 L278.39 62.51 L278.92 68.68 L279.45 75.1 L279.98 81.52 L280.51 87.69 L281.04 93.38 L281.57 98.36 L282.11 102.46 L282.64 105.5 L283.17 107.37 L283.7 108 L284.22 107.33 L284.74 105.34 L285.26 102.1 L285.77 97.75 L286.29 92.44 L286.81 86.39 L287.33 79.83 L287.85 73 L288.37 66.17 L288.89 59.61 L289.41 53.56 L289.93 48.25 L290.44 43.9 L290.96 40.66 L291.48 38.67 L292 38 L292.48 38.72 L292.96 40.85 L293.44 44.32 L293.93 48.98 L294.41 54.67 L294.89 61.15 L295.37 68.18 L295.85 75.5 L296.33 82.82 L296.81 89.85 L297.29 96.33 L297.77 102.02 L298.26 106.68 L298.74 110.15 L299.22 112.28 L299.7 113 L300.18 112.21 L300.67 109.86 L301.15 106.05 L301.64 100.92 L302.12 94.67 L302.61 87.54 L303.09 79.8 L303.57 71.75 L304.06 63.7 L304.54 55.96 L305.03 48.83 L305.51 42.58 L306 37.45 L306.48 33.64 L306.97 31.29 L307.45 30.5 L307.86 31.4 L308.27 34.06 L308.68 38.38 L309.09 44.19 L309.5 51.28 L309.91 59.36 L310.32 68.13 L310.73 77.25 L311.13 86.37 L311.54 95.14 L311.95 103.22 L312.36 110.31 L312.77 116.12 L313.18 120.44 L313.59 123.1 L314 124 L314.4 122.95 L314.8 119.86 L315.2 114.83 L315.6 108.07 L316 99.82 L316.4 90.42 L316.8 80.21 L317.2 69.6 L317.6 58.99 L318 48.78 L318.4 39.38 L318.8 31.13 L319.2 24.37 L319.6 19.34 L320 16.25 L320.4 15.2 L320.75 16.46 L321.1 20.18 L321.45 26.22 L321.8 34.36 L322.15 44.27 L322.5 55.57 L322.85 67.84 L323.2 80.6 L323.55 93.36 L323.9 105.63 L324.25 116.93 L324.6 126.84 L324.95 134.98 L325.3 141.02 L325.65 144.74 L326 146 L326.3 144.57 L326.6 140.33 L326.9 133.44 L327.2 124.18 L327.5 112.89 L327.8 100.01 L328.1 86.03 L328.4 71.5 L328.7 56.97 L329 42.99 L329.3 30.11 L329.6 18.82 L329.9 9.56 L330.2 2.67 L330.5 -1.57 L330.8 -3 L331.07 -1.51 L331.35 2.9 L331.62 10.06 L331.9 19.7 L332.18 31.44 L332.45 44.84 L332.73 59.38 L333 74.5 L333.27 89.62 L333.55 104.16 L333.82 117.56 L334.1 129.3 L334.38 138.94 L334.65 146.1 L334.93 150.51 L335.2 152 L335.46 150.58 L335.72 146.37 L335.99 139.53 L336.25 130.33 L336.51 119.11 L336.77 106.32 L337.04 92.44 L337.3 78 L337.56 63.56 L337.82 49.68 L338.09 36.89 L338.35 25.67 L338.61 16.47 L338.88 9.63 L339.14 5.42 L339.4 4 L339.62 5.21 L339.84 8.8 L340.06 14.63 L340.27 22.48 L340.49 32.04 L340.71 42.95 L340.93 54.79 L341.15 67.1 L341.37 79.41 L341.59 91.25 L341.81 102.16 L342.02 111.72 L342.24 119.57 L342.46 125.4 L342.68 128.99 L342.9 130.2 L343.14 129.25 L343.38 126.45 L343.61 121.89 L343.85 115.76 L344.09 108.29 L344.32 99.77 L344.56 90.52 L344.8 80.9 L345.04 71.28 L345.27 62.03 L345.51 53.51 L345.75 46.04 L345.99 39.91 L346.22 35.35 L346.46 32.55 L346.7 31.6 L346.93 32.29 L347.15 34.34 L347.38 37.68 L347.6 42.16 L347.82 47.62 L348.05 53.85 L348.27 60.62 L348.5 67.65 L348.73 74.68 L348.95 81.45 L349.18 87.68 L349.4 93.14 L349.62 97.62 L349.85 100.96 L350.07 103.01 L350.3 103.7 L350.52 103.21 L350.74 101.77 L350.96 99.43 L351.18 96.28 L351.39 92.43 L351.61 88.05 L351.83 83.3 L352.05 78.35 L352.27 73.4 L352.49 68.65 L352.71 64.27 L352.93 60.42 L353.14 57.27 L353.36 54.93 L353.58 53.49 L353.8 53 L354.02 53.34 L354.24 54.35 L354.46 55.98 L354.68 58.18 L354.89 60.87 L355.11 63.93 L355.33 67.25 L355.55 70.7 L355.77 74.15 L355.99 77.47 L356.21 80.53 L356.43 83.22 L356.64 85.42 L356.86 87.05 L357.08 88.06 L357.3 88.4 L357.53 88.17 L357.75 87.48 L357.98 86.36 L358.2 84.86 L358.43 83.02 L358.65 80.93 L358.88 78.66 L359.1 76.3 L359.32 73.94 L359.55 71.67 L359.77 69.58 L360 67.74 L360.22 66.24 L360.45 65.12 L360.67 64.43 L360.9 64.2 L361.13 64.36 L361.36 64.83 L361.59 65.59 L361.82 66.62 L362.06 67.87 L362.29 69.29 L362.52 70.84 L362.75 72.45 L362.98 74.06 L363.21 75.61 L363.44 77.03 L363.68 78.28 L363.91 79.31 L364.14 80.07 L364.37 80.54 L364.6 80.7 L364.81 80.59 L365.01 80.25 L365.22 79.71 L365.43 78.99 L365.63 78.1 L365.84 77.09 L366.04 75.99 L366.25 74.85 L366.46 73.71 L366.66 72.61 L366.87 71.6 L367.07 70.71 L367.28 69.99 L367.49 69.45 L367.69 69.11 L367.9 69 L368.12 69.08 L368.35 69.31 L368.57 69.69 L368.8 70.2 L369.02 70.82 L369.25 71.53 L369.47 72.3 L369.7 73.1 L369.93 73.9 L370.15 74.67 L370.38 75.38 L370.6 76 L370.82 76.51 L371.05 76.89 L371.27 77.12 L371.5 77.2 L371.72 77.15 L371.94 76.99 L372.16 76.73 L372.38 76.38 L372.59 75.96 L372.81 75.47 L373.03 74.95 L373.25 74.4 L373.47 73.85 L373.69 73.33 L373.91 72.84 L374.12 72.42 L374.34 72.07 L374.56 71.81 L374.78 71.65 L375 71.6 L375.22 71.64 L375.44 71.77 L375.66 71.97 L375.88 72.24 L376.09 72.58 L376.31 72.96 L376.53 73.37 L376.75 73.8 L376.97 74.23 L377.19 74.64 L377.41 75.02 L377.62 75.36 L377.84 75.63 L378.06 75.83 L378.28 75.96 L378.5 76 L378.72 75.97 L378.94 75.89 L379.16 75.76 L379.38 75.59 L379.59 75.38 L379.81 75.14 L380.03 74.87 L380.25 74.6 L380.47 74.33 L380.69 74.06 L380.91 73.82 L381.12 73.61 L381.34 73.44 L381.56 73.31 L381.78 73.23 L382 73.2 L382.22 73.22 L382.44 73.27 L382.66 73.35 L382.88 73.46 L383.09 73.6 L383.31 73.76 L383.53 73.92 L383.75 74.1 L383.97 74.28 L384.19 74.44 L384.41 74.6 L384.62 74.74 L384.84 74.85 L385.06 74.93 L385.28 74.98 L385.5 75 L385.72 74.99 L385.94 74.96 L386.16 74.92 L386.38 74.85 L386.59 74.78 L386.81 74.69 L387.03 74.6 L387.25 74.5 L387.47 74.4 L387.69 74.31 L387.91 74.22 L388.12 74.15 L388.34 74.08 L388.56 74.04 L388.78 74.01 L389 74" stroke="#f00" stroke-width="1.8"/><path clip-path="url(#c2)" d="M257.5 105.5 L258.05 105.5 L258.6 105.48 L259.15 105.46 L259.7 105.43 L260.25 105.39 L260.8 105.35 L261.35 105.3 L261.9 105.25 L262.45 105.2 L263 105.15 L263.55 105.11 L264.1 105.07 L264.65 105.04 L265.2 105.02 L265.75 105 L266.3 105 L266.86 104.41 L267.41 102.65 L267.97 99.8 L268.52 95.96 L269.08 91.29 L269.64 85.96 L270.19 80.17 L270.75 74.15 L271.31 68.13 L271.86 62.34 L272.42 57.01 L272.98 52.34 L273.53 48.5 L274.09 45.65 L274.64 43.89 L275.2 43.3 L275.73 43.91 L276.26 45.72 L276.79 48.66 L277.32 52.61 L277.86 57.43 L278.39 62.93 L278.92 68.9 L279.45 75.1 L279.98 81.3 L280.51 87.27 L281.04 92.77 L281.57 97.59 L282.11 101.54 L282.64 104.48 L283.17 106.29 L283.7 106.9 L284.22 106.25 L284.74 104.33 L285.26 101.2 L285.77 97 L286.29 91.88 L286.81 86.03 L287.33 79.69 L287.85 73.1 L288.37 66.51 L288.89 60.17 L289.41 54.32 L289.93 49.2 L290.44 45 L290.96 41.87 L291.48 39.95 L292 39.3 L292.48 40 L292.96 42.06 L293.44 45.4 L293.93 49.9 L294.41 55.39 L294.89 61.65 L295.37 68.44 L295.85 75.5 L296.33 82.56 L296.81 89.35 L297.29 95.61 L297.77 101.1 L298.26 105.6 L298.74 108.94 L299.22 111 L299.7 111.7 L300.18 110.95 L300.66 108.73 L301.14 105.13 L301.62 100.28 L302.11 94.37 L302.59 87.62 L303.07 80.31 L303.55 72.7 L304.03 65.09 L304.51 57.78 L304.99 51.03 L305.47 45.12 L305.96 40.27 L306.44 36.67 L306.92 34.45 L307.4 33.7 L307.81 34.53 L308.21 37.01 L308.62 41.02 L309.02 46.43 L309.43 53.01 L309.84 60.52 L310.24 68.67 L310.65 77.15 L311.06 85.63 L311.46 93.78 L311.87 101.29 L312.27 107.87 L312.68 113.28 L313.09 117.29 L313.49 119.77 L313.9 120.6 L314.29 119.66 L314.67 116.87 L315.06 112.33 L315.45 106.23 L315.84 98.8 L316.23 90.32 L316.61 81.12 L317 71.55 L317.39 61.98 L317.77 52.78 L318.16 44.3 L318.55 36.87 L318.94 30.77 L319.33 26.23 L319.71 23.44 L320.1 22.5 L320.44 23.54 L320.79 26.63 L321.13 31.64 L321.48 38.39 L321.82 46.61 L322.16 55.99 L322.51 66.17 L322.85 76.75 L323.19 87.33 L323.54 97.51 L323.88 106.89 L324.23 115.11 L324.57 121.86 L324.91 126.87 L325.26 129.96 L325.6 131 L325.88 129.86 L326.15 126.5 L326.43 121.04 L326.7 113.69 L326.98 104.73 L327.25 94.52 L327.53 83.43 L327.8 71.9 L328.07 60.37 L328.35 49.28 L328.62 39.07 L328.9 30.11 L329.18 22.76 L329.45 17.3 L329.73 13.94 L330 12.8 L330.27 13.94 L330.55 17.3 L330.82 22.76 L331.1 30.11 L331.38 39.07 L331.65 49.28 L331.93 60.37 L332.2 71.9 L332.47 83.43 L332.75 94.52 L333.02 104.73 L333.3 113.69 L333.57 121.04 L333.85 126.5 L334.12 129.86 L334.4 131 L334.64 129.99 L334.88 126.99 L335.11 122.13 L335.35 115.58 L335.59 107.6 L335.82 98.5 L336.06 88.62 L336.3 78.35 L336.54 68.08 L336.77 58.2 L337.01 49.1 L337.25 41.12 L337.49 34.57 L337.72 29.71 L337.96 26.71 L338.2 25.7 L338.44 26.51 L338.68 28.89 L338.91 32.77 L339.15 37.99 L339.39 44.34 L339.62 51.6 L339.86 59.47 L340.1 67.65 L340.34 75.83 L340.57 83.7 L340.81 90.96 L341.05 97.31 L341.29 102.53 L341.52 106.41 L341.76 108.79 L342 109.6 L342.23 108.99 L342.45 107.2 L342.68 104.28 L342.9 100.36 L343.12 95.58 L343.35 90.12 L343.57 84.21 L343.8 78.05 L344.03 71.89 L344.25 65.98 L344.48 60.52 L344.7 55.74 L344.93 51.82 L345.15 48.9 L345.38 47.11 L345.6 46.5 L345.83 46.94 L346.05 48.25 L346.28 50.38 L346.5 53.24 L346.73 56.72 L346.95 60.7 L347.18 65.01 L347.4 69.5 L347.62 73.99 L347.85 78.3 L348.07 82.28 L348.3 85.76 L348.52 88.62 L348.75 90.75 L348.97 92.06 L349.2 92.5 L349.43 92.19 L349.65 91.27 L349.88 89.78 L350.1 87.77 L350.32 85.32 L350.55 82.53 L350.77 79.5 L351 76.35 L351.23 73.2 L351.45 70.17 L351.68 67.38 L351.9 64.93 L352.12 62.92 L352.35 61.43 L352.57 60.51 L352.8 60.2 L353.03 60.42 L353.25 61.06 L353.48 62.1 L353.7 63.51 L353.93 65.22 L354.15 67.18 L354.38 69.3 L354.6 71.5 L354.82 73.7 L355.05 75.82 L355.27 77.78 L355.5 79.49 L355.72 80.9 L355.95 81.94 L356.17 82.58 L356.4 82.8 L356.61 82.65 L356.82 82.21 L357.04 81.5 L357.25 80.54 L357.46 79.38 L357.68 78.05 L357.89 76.6 L358.1 75.1 L358.31 73.6 L358.52 72.15 L358.74 70.82 L358.95 69.66 L359.16 68.7 L359.38 67.99 L359.59 67.55 L359.8 67.4 L360.04 67.5 L360.28 67.8 L360.51 68.29 L360.75 68.95 L360.99 69.76 L361.23 70.67 L361.46 71.67 L361.7 72.7 L361.94 73.73 L362.18 74.73 L362.41 75.64 L362.65 76.45 L362.89 77.11 L363.12 77.6 L363.36 77.9 L363.6 78 L363.81 77.94 L364.03 77.75 L364.24 77.44 L364.45 77.03 L364.66 76.53 L364.88 75.96 L365.09 75.34 L365.3 74.7 L365.51 74.06 L365.73 73.44 L365.94 72.87 L366.15 72.37 L366.36 71.96 L366.57 71.65 L366.79 71.46 L367 71.4 L367.23 71.44 L367.46 71.57 L367.69 71.78 L367.93 72.06 L368.16 72.4 L368.39 72.79 L368.62 73.21 L368.85 73.65 L369.08 74.09 L369.31 74.51 L369.54 74.9 L369.77 75.24 L370.01 75.52 L370.24 75.73 L370.47 75.86 L370.7 75.9 L370.92 75.87 L371.14 75.79 L371.36 75.65 L371.57 75.46 L371.79 75.23 L372.01 74.97 L372.23 74.69 L372.45 74.4 L372.67 74.11 L372.89 73.83 L373.11 73.57 L373.32 73.34 L373.54 73.15 L373.76 73.01 L373.98 72.93 L374.2 72.9 L374.42 72.92 L374.64 72.98 L374.86 73.09 L375.07 73.22 L375.29 73.39 L375.51 73.58 L375.73 73.79 L375.95 74 L376.17 74.21 L376.39 74.42 L376.61 74.61 L376.82 74.78 L377.04 74.91 L377.26 75.02 L377.48 75.08 L377.7 75.1 L377.92 75.09 L378.14 75.05 L378.36 74.98 L378.57 74.89 L378.79 74.79 L379.01 74.67 L379.23 74.54 L379.45 74.4 L379.67 74.26 L379.89 74.13 L380.11 74.01 L380.32 73.91 L380.54 73.82 L380.76 73.75 L380.98 73.71 L381.2 73.7 L381.42 73.71 L381.64 73.73 L381.86 73.78 L382.07 73.83 L382.29 73.9 L382.51 73.98 L382.73 74.06 L382.95 74.15 L383.17 74.24 L383.39 74.32 L383.61 74.4 L383.82 74.47 L384.04 74.52 L384.26 74.57 L384.48 74.59 L384.7 74.6 L384.91 74.6 L385.11 74.58 L385.32 74.56 L385.52 74.53 L385.73 74.49 L385.94 74.45 L386.14 74.4 L386.35 74.35 L386.56 74.3 L386.76 74.25 L386.97 74.21 L387.18 74.17 L387.38 74.14 L387.59 74.12 L387.79 74.1 L388 74.1" stroke="#00f" stroke-width="1.75"/><path clip-path="url(#c3)" d="M52.5 242.7 L53 242.51 L53.5 242.31 L54 242.12 L54.5 241.93 L55 241.74 L55.5 241.54 L56 241.35 L56.5 241.16 L57 240.98 L57.5 240.79 L58 240.6 L58.5 240.41 L59 240.23 L59.5 240.04 L60 239.86 L60.5 239.69 L61 239.51 L61.5 239.33 L62 239.16 L62.5 238.98 L63 238.8 L63.5 238.62 L64 238.43 L64.5 238.24 L65 238.04 L65.5 237.84 L66 237.64 L66.5 237.43 L67 237.23 L67.5 237.01 L68 236.79 L68.5 236.56 L69 236.31 L69.5 236.05 L70 235.77 L70.5 235.44 L71 235.08 L71.5 234.7 L72 234.3 L72.5 233.9 L73 233.5 L73.5 233.11 L74 232.74 L74.5 232.41 L75 232.11 L75.5 231.85 L76 231.63 L76.5 231.43 L77 231.25 L77.5 231.07 L78 230.89 L78.5 230.7 L79 230.49 L79.5 230.25 L80 229.98 L80.5 229.67 L81 229.33 L81.5 228.96 L82 228.58 L82.5 228.17 L83 227.74 L83.5 227.3 L84 226.86 L84.5 226.41 L85 225.96 L85.5 225.51 L86 225.07 L86.5 224.64 L87 224.23 L87.5 223.83 L88 223.45 L88.5 223.08 L89 222.7 L89.5 222.33 L90 221.96 L90.5 221.59 L91 221.22 L91.5 220.86 L92 220.5 L92.5 220.15 L93 219.81 L93.5 219.48 L94 219.15 L94.5 218.84 L95 218.53 L95.5 218.24 L96 217.96 L96.5 217.68 L97 217.41 L97.5 217.15 L98 216.9 L98.5 216.65 L99 216.42 L99.5 216.2 L100 216 L100.5 215.81 L101 215.62 L101.5 215.44 L102 215.27 L102.5 215.11 L103 214.95 L103.5 214.79 L104 214.64 L104.5 214.5 L105 214.36 L105.5 214.23 L106 214.09 L106.5 213.97 L107 213.84 L107.5 213.72 L108 213.6 L108.5 213.49 L109 213.39 L109.5 213.29 L110 213.2 L110.5 213.11 L111 213.02 L111.5 212.93 L112 212.84 L112.5 212.75 L113 212.67 L113.5 212.6 L114 212.53 L114.5 212.48 L115 212.44 L115.5 212.41 L116 212.4 L116.5 212.4 L117 212.4 L117.5 212.4 L118 212.4 L118.5 212.4 L119 212.4 L119.5 212.4 L120 212.4 L120.5 212.41 L121 212.44 L121.5 212.49 L122 212.56 L122.5 212.64 L123 212.74 L123.5 212.85 L124 212.96 L124.5 213.08 L125 213.21 L125.5 213.34 L126 213.47 L126.5 213.6 L127 213.74 L127.5 213.91 L128 214.1 L128.5 214.3 L129 214.5 L129.5 214.71 L130 214.9 L130.5 215.08 L131 215.26 L131.5 215.43 L132 215.6 L132.5 215.77 L133 215.94 L133.5 216.12 L134 216.3 L134.5 216.5 L135 216.72 L135.5 216.95 L136 217.2 L136.5 217.49 L137 217.84 L137.5 218.23 L138 218.65 L138.5 219.08 L139 219.51 L139.5 219.92 L140 220.3 L140.5 220.66 L141 221 L141.5 221.34 L142 221.66 L142.5 221.99 L143 222.31 L143.5 222.63 L144 222.95 L144.5 223.27 L145 223.6 L145.5 223.94 L146 224.29 L146.5 224.65 L147 225.03 L147.5 225.42 L148 225.83 L148.5 226.24 L149 226.66 L149.5 227.08 L150 227.5 L150.5 227.91 L151 228.33 L151.5 228.75 L152 229.16 L152.5 229.58 L153 230 L153.5 230.42 L154 230.84 L154.5 231.26 L155 231.68 L155.5 232.11 L156 232.53 L156.5 232.95 L157 233.38 L157.5 233.81 L158 234.24 L158.5 234.66 L159 235.1 L159.5 235.53 L160 235.96 L160.5 236.4 L161 236.84 L162.74 238.19 L163.9 239.46 L165.69 240.98 L166.73 242.04 L168.26 243.74 L170.06 243.99 L171.52 247.58 L172.95 245.59 L174.4 251.54 L176.07 247.46 L177.46 248.42 L179.14 254.71 L180.51 251.37 L182.05 252.45 L183.59 259.42 L185.29 255.1 L186.69 261.99 L187.95 259.79 L189.73 262.8 L191.19 263.12 L192.23 265.6 L194.13 265.5 L195.68 268.11 L197.14 268.54 L198.63 271.01 L200.02 272.32 L201.27 273.97 L203.27 273.89 L204.44 276.61 L205.83 276.52 L207.63 277.82 L209.3 280.93 L210.35 279.79 L212.1 284.07 L213.56 287.56 L215.13 282.13 L216.76 284.08 L217.91 291.98 L219.35 286.14 L220.94 296.71 L222.65 290.25 L224.13 297.35 L225.44 293.46 L227.29 301.22 L228.47 304.02 L229.92 300.19 L231.63 308.63 L232.75 306.03" stroke="#0ff" stroke-width="1.6" stroke-dasharray="8 3.4"/><path clip-path="url(#c3)" d="M52.5 219.8 L53 219.78 L53.5 219.76 L54 219.74 L54.5 219.72 L55 219.7 L55.5 219.69 L56 219.67 L56.5 219.65 L57 219.63 L57.5 219.61 L58 219.59 L58.5 219.57 L59 219.55 L59.5 219.53 L60 219.51 L60.5 219.49 L61 219.47 L61.5 219.45 L62 219.43 L62.5 219.41 L63 219.39 L63.5 219.37 L64 219.35 L64.5 219.33 L65 219.31 L65.5 219.29 L66 219.27 L66.5 219.25 L67 219.23 L67.5 219.2 L68 219.18 L68.5 219.16 L69 219.14 L69.5 219.12 L70 219.1 L70.5 219.08 L71 219.06 L71.5 219.04 L72 219.01 L72.5 218.99 L73 218.97 L73.5 218.95 L74 218.92 L74.5 218.9 L75 218.88 L75.5 218.85 L76 218.83 L76.5 218.81 L77 218.78 L77.5 218.76 L78 218.73 L78.5 218.71 L79 218.69 L79.5 218.66 L80 218.64 L80.5 218.62 L81 218.59 L81.5 218.57 L82 218.55 L82.5 218.52 L83 218.5 L83.5 218.48 L84 218.45 L84.5 218.43 L85 218.41 L85.5 218.39 L86 218.36 L87.78 218.37 L89.03 218.14 L90.78 218.31 L92.13 217.98 L93.62 218.38 L94.83 217.68 L96.79 217.7 L97.7 218.19 L99.35 218.06 L100.96 217.49 L102.67 217.29 L103.82 218.15 L105.72 217.3 L107.29 218.03 L108.3 217.21 L110.06 218.24 L111.21 218.08 L112.93 217.36 L114.23 217.95 L116.27 217.34 L117.46 218.26 L119.27 217.17 L120.67 218.22 L122.22 217.99 L123.3 217.24 L124.74 218.18 L126.56 216.98 L127.8 218.05 L129.64 217.27 L130.95 218.25 L132.52 217.14 L134.26 218.2 L135.51 217.15 L136.76 218.17 L138.29 216.82 L140.03 216.83 L141.51 218 L143.08 216.76 L144.44 217.86 L146.09 216.87 L147.44 217.95 L149.07 216.5 L150.66 217.77 L151.81 216.35 L153.43 217.99 L155 216.06 L156.61 217.57 L157.85 216.17 L159.53 217.25 L161.07 215.44 L162.74 217.42 L163.92 215.13 L165.58 216.82 L166.81 216.53 L168.5 214.47 L169.81 216.58 L171.75 214.55 L172.96 215.71 L174.7 213.55 L175.95 215.74 L177.74 213.43 L178.94 214.88 L180.4 212.85 L182.04 214.67 L183.71 212.65 L185.22 214.55 L186.56 214.12 L187.75 211.38 L189.56 213.5 L190.85 210.72 L192.64 213.62 L194.24 210.8 L195.51 213.46 L197.06 209.9 L198.24 212.99 L200.02 211.92 L201.28 211.71 L203.07 208.56 L204.42 208.73 L206.16 208.06 L207.23 208.11 L208.77 211.59 L210.61 206.59 L212.01 210.85 L213.54 205.67 L215.21 211.14 L216.49 203.74 L218.19 211.72 L219.51 201.36 L221.26 207.9 L222.6 201.48 L223.79 207.96 L225.42 201.01 L227.22 205.11 L228.41 199.55 L229.81 204.18 L231.48 198.41 L232.94 202.73 L234.57 197.58 L235.96 201.13 L237.36 196.18 L238.95 198.67 L240.45 192.51 L242.24 195.68 L243.79 190.07 L245.07 191.78 L246.25 189.6 L248.14 183.19 L249.61 183.38 L251.2 176.89 L252.41 175.75" stroke="#ffa500" stroke-width="1.5" stroke-dasharray="7 3.7"/><path clip-path="url(#c4)" d="M265.8 229.4 L266.3 229.43 L266.8 229.46 L267.3 229.49 L267.8 229.52 L268.3 229.56 L268.8 229.59 L269.3 229.63 L269.8 229.67 L270.3 229.71 L270.8 229.75 L271.3 229.79 L271.8 229.84 L272.3 229.88 L272.8 229.92 L273.3 229.97 L273.8 230.02 L274.3 230.06 L274.8 230.11 L275.3 230.16 L275.8 230.21 L276.3 230.27 L276.8 230.33 L277.3 230.39 L277.8 230.44 L278.3 230.5 L278.8 230.56 L279.3 230.62 L279.8 230.68 L280.3 230.74 L280.8 230.8 L281.3 230.86 L281.8 230.92 L282.3 230.98 L282.8 231.04 L283.3 231.1 L283.8 231.16 L284.3 231.22 L284.8 231.28 L285.3 231.34 L285.8 231.41 L286.3 231.47 L286.8 231.53 L287.3 231.6 L287.8 231.67 L288.3 231.73 L288.8 231.8 L289.3 231.87 L289.8 231.94 L290.3 232.01 L290.8 232.09 L291.3 232.17 L291.8 232.25 L292.3 232.33 L292.8 232.42 L293.3 232.51 L293.8 232.6 L294.3 232.69 L294.8 232.78 L295.3 232.88 L295.8 232.98 L296.3 233.08 L296.8 233.18 L297.3 233.29 L297.8 233.4 L298.3 233.51 L298.8 233.62 L299.3 233.73 L299.8 233.85 L300.3 233.97 L300.8 234.09 L301.3 234.22 L301.8 234.34 L302.3 234.47 L302.8 234.6 L303.3 234.74 L303.8 234.87 L304.3 235.01 L304.8 235.15 L305.3 235.3 L305.8 235.45 L306.3 235.6 L306.8 235.75 L307.3 235.91 L307.8 236.08 L308.3 236.24 L308.8 236.41 L309.3 236.59 L309.8 236.77 L310.3 236.96 L310.8 237.15 L311.3 237.34 L311.8 237.54 L312.3 237.75 L312.8 237.98 L313.3 238.21 L313.8 238.46 L314.3 238.73 L314.8 239.01 L315.3 239.3 L315.8 239.61 L316.3 239.93 L316.8 240.28 L317.3 240.66 L317.8 241.07 L318.3 241.5 L318.8 241.94 L319.3 242.4 L319.8 242.87 L320.3 243.35 L320.8 243.84 L321.3 244.33 L321.8 244.81 L322.3 245.3 L322.8 245.79 L323.3 246.29 L323.8 246.8 L324.3 247.33 L324.8 247.86 L325.3 248.41 L325.8 248.95 L326.3 249.47 L326.8 249.98 L327.3 250.5 L327.8 251.02 L328.3 251.56 L328.8 252.13 L329.3 252.73 L329.8 253.36 L330.3 254.05 L330.8 254.79 L331.3 255.6 L331.8 256.6 L332.3 257.81 L332.8 259.06 L333.3 260.23 L333.8 261.38 L334.3 262.52 L334.8 263.68 L335.3 264.9 L335.8 266.2 L336.3 267.6 L336.8 269.31 L337.3 271 L337.8 272.37 L338.3 273.64 L338.8 274.83 L339.3 275.95 L339.8 277.02 L340.3 278.06 L340.8 279.09 L341.3 280.11 L341.8 281.11 L342.3 282.04 L342.8 282.9 L343.3 283.7 L343.8 284.47 L344.3 285.23 L344.8 285.96 L345.3 286.66 L345.8 287.34 L346.3 287.99 L346.8 288.62 L347.3 289.21 L347.8 289.77 L348.3 290.3 L348.8 290.8 L349.3 291.29 L349.8 291.75 L350.3 292.17 L350.8 292.56 L351.3 292.89 L351.8 293.16 L352.3 293.42 L352.8 293.67 L353.3 293.92 L353.8 294.15 L354.3 294.37 L354.8 294.58 L355.3 294.77 L355.8 294.96 L356.3 295.14 L356.8 295.31 L357.3 295.46 L357.8 295.61 L358.3 295.74 L358.8 295.87 L359.3 295.98 L359.8 296.08 L360.3 296.17 L360.8 296.26 L361.3 296.34 L361.8 296.41 L362.3 296.47 L362.8 296.53 L363.3 296.58 L363.8 296.62 L364.3 296.65 L364.8 296.69 L365.3 296.73 L365.8 296.76 L366.3 296.8 L366.8 296.83 L367.3 296.86 L367.8 296.89 L368.3 296.91 L368.8 296.94 L369.3 296.96 L369.8 296.97 L370.3 296.99 L370.8 296.99 L371.3 297 L371.8 297 L372.3 297 L372.8 297 L373.3 297 L373.8 297 L374.3 297 L374.8 297 L375.3 296.99 L375.8 296.99 L376.3 296.99 L376.8 296.99 L377.3 296.98 L377.8 296.98 L378.3 296.97 L378.8 296.96 L379.3 296.95 L379.8 296.94 L380.3 296.93 L380.8 296.92 L381.3 296.9 L381.8 296.89 L382.3 296.87 L382.8 296.85 L383.3 296.83 L383.8 296.81" stroke="#0ff" stroke-width="1.6" stroke-dasharray="8.75 4.3"/><path clip-path="url(#c4)" d="M265.8 227.25 L266.3 227.22 L266.8 227.2 L267.3 227.17 L267.8 227.15 L268.3 227.12 L268.8 227.1 L269.3 227.07 L269.8 227.05 L270.3 227.02 L270.8 227 L271.3 226.97 L271.8 226.95 L272.3 226.92 L272.8 226.89 L273.3 226.87 L273.8 226.84 L274.3 226.82 L274.8 226.8 L275.3 226.77 L275.8 226.75 L276.3 226.72 L276.8 226.7 L277.3 226.68 L277.8 226.65 L278.3 226.63 L278.8 226.61 L279.3 226.58 L279.8 226.56 L280.3 226.54 L280.8 226.52 L281.3 226.49 L281.8 226.47 L282.3 226.45 L282.8 226.42 L283.3 226.4 L283.8 226.37 L284.3 226.35 L284.8 226.32 L285.3 226.3 L285.8 226.27 L286.3 226.25 L286.8 226.22 L287.3 226.19 L287.8 226.16 L288.3 226.13 L288.8 226.1 L289.3 226.07 L289.8 226.04 L290.3 226.01 L290.8 225.98 L291.3 225.95 L291.8 225.91 L292.3 225.88 L292.8 225.85 L293.3 225.81 L293.8 225.78 L294.3 225.74 L294.8 225.7 L295.3 225.67 L295.8 225.63 L296.3 225.59 L296.8 225.55 L297.3 225.51 L297.8 225.47 L298.3 225.43 L298.8 225.38 L299.3 225.34 L299.8 225.29 L300.3 225.25 L300.8 225.2 L301.3 225.15 L301.8 225.1 L302.3 225.05 L302.8 224.99 L303.3 224.93 L303.8 224.87 L304.3 224.8 L304.8 224.73 L305.3 224.66 L305.8 224.58 L306.3 224.5 L306.8 224.41 L307.3 224.33 L307.8 224.24 L308.3 224.14 L308.8 224.04 L309.3 223.94 L309.8 223.83 L310.3 223.72 L310.8 223.6 L311.3 223.48 L311.8 223.35 L312.3 223.22 L312.8 223.08 L313.3 222.93 L313.8 222.77 L314.3 222.59 L314.8 222.39 L315.3 222.17 L315.8 221.93 L316.3 221.68 L316.8 221.43 L317.3 221.17 L317.8 220.9 L318.3 220.63 L318.8 220.34 L319.3 220.04 L319.8 219.73 L320.3 219.4 L320.8 219.07 L321.3 218.73 L321.8 218.39 L322.3 218.04 L322.8 217.68 L323.3 217.33 L323.8 216.97 L324.3 216.61 L324.8 216.26 L325.3 215.89 L325.8 215.5 L326.3 215.12 L326.8 214.74 L327.3 214.37 L327.8 214.02 L328.3 213.69 L328.8 213.37 L329.3 213.04 L329.8 212.71 L330.3 212.35 L330.8 211.96 L331.3 211.55 L331.8 211.12 L332.3 210.66 L332.8 210.19 L333.5 209.36 L334 208.55 L334.5 207.59 L335 206.38 L335.5 205.04 L336 203.68 L336.5 202.22 L337 200.7 L337.5 199.19 L338 197.73 L338.5 196.39 L339 195.22 L339.5 194.16 L340 193.17 L340.5 192.2 L341 191.19 L341.5 190.16 L342 189.12 L342.5 188.1 L343 187.11 L343.5 186.18 L344 185.32 L344.5 184.55 L345 183.83 L345.5 183.13 L346 182.48 L346.5 181.9 L347 181.43 L347.5 181.07 L348 180.75 L348.5 180.47 L349 180.24 L349.5 180.04 L350 179.9 L350.5 179.79 L351 179.68 L351.5 179.59 L352 179.53 L352.5 179.5 L353 179.5 L353.5 179.52 L354 179.54 L354.5 179.56 L355 179.59 L355.5 179.63 L356 179.67 L356.5 179.72 L357 179.81 L357.5 179.93 L358 180.07 L358.5 180.22 L359 180.36 L359.5 180.5 L360 180.6 L360.5 180.68 L361 180.77 L361.5 180.84 L362 180.92 L362.5 180.99 L363 181.07 L363.5 181.13 L364 181.2 L364.5 181.26 L365 181.32 L365.5 181.38 L366 181.43 L366.5 181.49 L367 181.53 L367.5 181.58 L368 181.62 L368.5 181.66 L369 181.7 L369.5 181.74 L370 181.77 L370.5 181.81 L371 181.84 L371.5 181.87 L372 181.89 L372.5 181.9 L373 181.9 L373.5 181.9 L374 181.9 L374.5 181.9 L375 181.9 L375.5 181.9 L376 181.9 L376.5 181.9 L377 181.9 L377.5 181.9 L378 181.9 L378.5 181.9 L379 181.9 L379.5 181.9 L380 181.9 L380.5 181.9 L381 181.9 L381.5 181.9 L382 181.9 L382.5 181.9 L383 181.9 L383.5 181.9 L384 181.9" stroke="#ffa500" stroke-width="1.55" stroke-dasharray="8.75 4.3"/></g><g fill="#fff" stroke="#222" stroke-width="1.1"><rect x="56.5" y="4.5" width="170.6" height="34.1"/><rect x="56.5" y="252.6" width="106.8" height="39.5"/></g><g fill="none"><path d="M61.5 14.2H96.7" stroke="#f00" stroke-width="1.4"/><path d="M61.5 29.2H96.7" stroke="#00f" stroke-width="1.4"/><path d="M61.8 264.5H97" stroke="#0ff" stroke-width="1.4" stroke-dasharray="8.2 5"/><path d="M61.8 281.6H97" stroke="#ffa500" stroke-width="1.4" stroke-dasharray="8.2 5"/></g><g font-family="Liberation Serif, serif" fill="#000"><text x="83.25" y="155" font-size="15" text-anchor="middle">4600</text><text x="144.9" y="155" font-size="15" text-anchor="middle">4800</text><text x="206.8" y="155" font-size="15" text-anchor="middle">5000</text><text x="266" y="155" font-size="15" text-anchor="middle">5150</text><text x="310.8" y="155" font-size="15" text-anchor="middle">5200</text><text x="356.7" y="155" font-size="15" text-anchor="middle">5250</text><text x="83.25" y="320" font-size="15" text-anchor="middle">4600</text><text x="144.9" y="320" font-size="15" text-anchor="middle">4800</text><text x="206.8" y="320" font-size="15" text-anchor="middle">5000</text><text x="266" y="320" font-size="15" text-anchor="middle">5150</text><text x="310.8" y="320" font-size="15" text-anchor="middle">5200</text><text x="356.7" y="320" font-size="15" text-anchor="middle">5250</text><text x="152.8" y="337" font-size="18.5" text-anchor="middle">t/M</text><text x="324.9" y="337" font-size="18.5" text-anchor="middle">t/M</text><text x="47.9" y="39" font-size="15" text-anchor="end">2<tspan font-size="19.5" dy="1.5" dx="-1.2">×</tspan><tspan dy="-1.5" dx="-1.2">10</tspan><tspan font-size="10.5" dy="-9">-4</tspan></text><text x="47.9" y="79.5" font-size="15" text-anchor="end">0</text><text x="47.9" y="125.7" font-size="15" text-anchor="end">-2<tspan font-size="19.5" dy="1.5" dx="-1.2">×</tspan><tspan dy="-1.5" dx="-1.2">10</tspan><tspan font-size="10.5" dy="-9">-4</tspan></text><text x="388.3" y="38.9" font-size="15" text-anchor="start">2<tspan font-size="19.5" dy="1.5" dx="-1.2">×</tspan><tspan dy="-1.5" dx="-1.2">10</tspan><tspan font-size="10.5" dy="-9">-4</tspan></text><text x="388.3" y="79.5" font-size="15" text-anchor="start">0</text><text x="388.9" y="125.7" font-size="15" text-anchor="start">-2<tspan font-size="19.5" dy="1.5" dx="-1.2">×</tspan><tspan dy="-1.5" dx="-1.2">10</tspan><tspan font-size="10.5" dy="-9">-4</tspan></text><text x="47.7" y="179.7" font-size="15" text-anchor="end">0.02</text><text x="47.7" y="223.1" font-size="15" text-anchor="end">0.01</text><text x="47.7" y="266.5" font-size="15" text-anchor="end">0</text><text x="47.7" y="310.5" font-size="15" text-anchor="end">-0.01</text><text x="388.1" y="203.3" font-size="15" text-anchor="start">0.5</text><text x="388.1" y="232.9" font-size="15" text-anchor="start">0.0</text><text x="388.1" y="262.7" font-size="15" text-anchor="start">-0.5</text><text x="388.1" y="292.4" font-size="15" text-anchor="start">-1.0</text><text x="105.2" y="17.6" font-size="12.4" text-anchor="start">EOB Re(h<tspan font-size="8.6" dy="2">44</tspan><tspan dy="-2">) R/M</tspan></text><text x="105.2" y="32.6" font-size="12.4" text-anchor="start">Teuk-code Re(h<tspan font-size="8.6" dy="2">44</tspan><tspan dy="-2">) R/M</tspan></text><text x="105.6" y="269.3" font-size="15.3" text-anchor="start"><tspan font-size="16.5">δϕ</tspan><tspan font-size="10.5" dy="2" dx="-0.9">h</tspan><tspan dy="-2" dx="-0.5"> (rad)</tspan></text><text x="105.6" y="287.2" font-size="15.1" text-anchor="start"><tspan font-size="16.5">δ</tspan>|h|/|h|</text></g></svg>

</div></body></html>
